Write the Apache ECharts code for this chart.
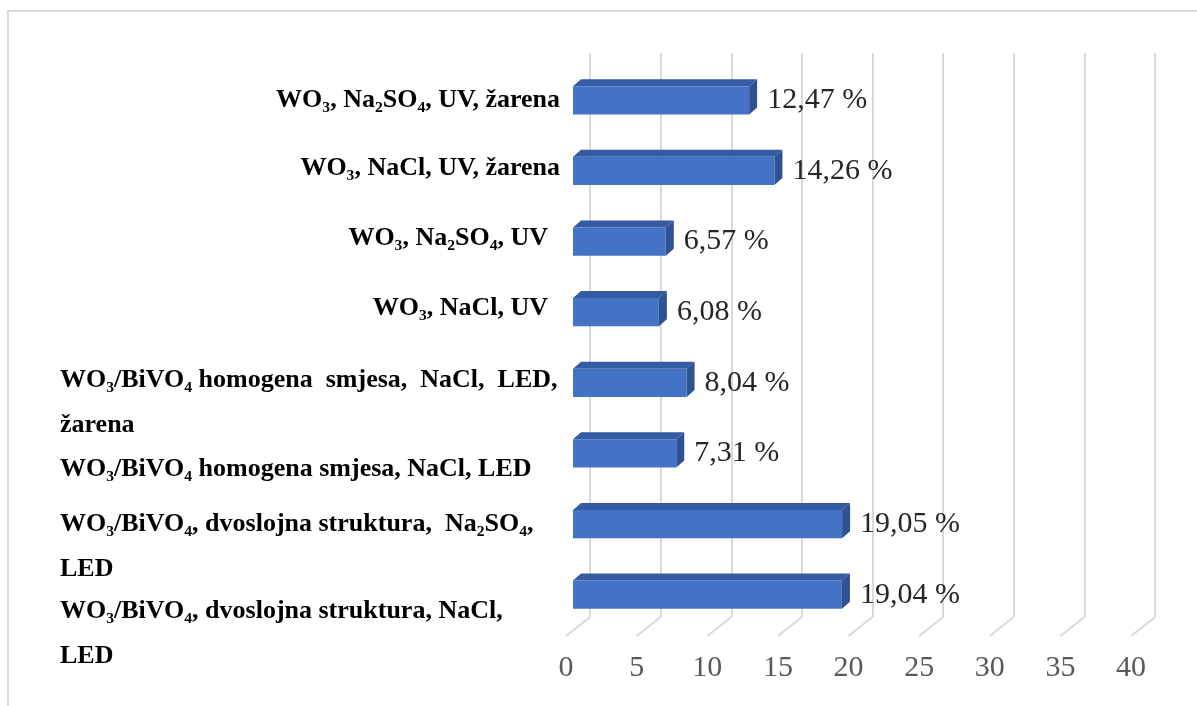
<!DOCTYPE html>
<html>
<head>
<meta charset="utf-8">
<script src="https://cdn.jsdelivr.net/npm/echarts@6/dist/echarts.min.js"></script>
<style>
  html, body { margin: 0; padding: 0; background: #ffffff; }
  #chart { width: 1197px; height: 706px; }
</style>
</head>
<body>
<div id="chart"></div>
<script>
// ---- data ----
const categories = [
  'WO₃, Na₂SO₄, UV, žarena',
  'WO₃, NaCl, UV, žarena',
  'WO₃, Na₂SO₄, UV',
  'WO₃, NaCl, UV',
  'WO₃/BiVO₄ homogena smjesa, NaCl, LED,\nžarena',
  'WO₃/BiVO₄ homogena smjesa, NaCl, LED',
  'WO₃/BiVO₄, dvoslojna struktura, Na₂SO₄,\nLED',
  'WO₃/BiVO₄, dvoslojna struktura, NaCl,\nLED'
];
const values = [12.47, 14.26, 6.57, 6.08, 8.04, 7.31, 19.05, 19.04];
const xTicks = [0, 5, 10, 15, 20, 25, 30, 35, 40];

// ---- style ----
const FRONT = '#4472C4';
const TOP = '#345BA3';
const SIDE = '#2F5293';
const GRID_COLOR = '#D9D9D9';
const SERIF = '"Liberation Serif", "Times New Roman", serif';
const DEPTH = [24, -19];        // floor depth vector (front -> back wall)
const BAR_DEPTH = [8, -7];      // bar top/side extrusion
const LABEL_W = 500;
const CAT_FONT = 26;

// per-category label layout: left-aligned block or right-aligned, padding,
// and whether the first line is stretched (justified) with wider word gaps
const labelLayout = [
  { left: false, pad: [0, 0, 0, 0] },
  { left: false, pad: [0, 0, 6, 0] },
  { left: false, pad: [0, 12, 6, 0] },
  { left: false, pad: [0, 12, 8, 0] },
  { left: true,  pad: [39, 0, 0, 0], justify: 3 },
  { left: true,  pad: [32, 0, 0, 0] },
  { left: true,  pad: [45, 0, 0, 0], justify: 1 },
  { left: true,  pad: [79, 0, 0, 0] }
];

const fmt = v => v.toFixed(2).replace('.', ',') + ' %';

// widen some word gaps of a line (justified paragraph look)
function stretch(line, n) {
  const words = line.split(' ');
  let out = words[0];
  for (let k = 1; k < words.length; k++) {
    out += (k > words.length - 1 - n ? '  ' : ' ') + words[k];
  }
  return out;
}

const yData = categories.map((c, i) => ({
  value: c,
  textStyle: { padding: labelLayout[i].pad }
}));

const chart = echarts.init(document.getElementById('chart'));

chart.setOption({
  backgroundColor: '#ffffff',
  animation: false,
  graphic: [{
    type: 'rect',
    shape: { x: 8, y: 11, width: 1400, height: 900 },
    style: { fill: 'none', stroke: GRID_COLOR, lineWidth: 2 },
    silent: true
  }],
  grid: [
    // back wall (gridlines)
    { left: 590, top: 53, width: 565, height: 564 },
    // front plane of the bars
    { left: 573, top: 65, width: 565, height: 565 },
    // front edge of the floor (tick labels)
    { left: 566, top: 600, width: 565, height: 36 }
  ],
  xAxis: [
    {
      gridIndex: 0, type: 'value', min: 0, max: 40, interval: 5,
      axisLine: { show: false }, axisTick: { show: false }, axisLabel: { show: false },
      splitLine: { show: true, lineStyle: { color: GRID_COLOR, width: 2 } }
    },
    {
      gridIndex: 1, type: 'value', min: 0, max: 40, interval: 5,
      axisLine: { show: false }, axisTick: { show: false }, axisLabel: { show: false },
      splitLine: { show: false }
    },
    {
      gridIndex: 2, type: 'value', min: 0, max: 40, interval: 5,
      axisLine: { show: false }, axisTick: { show: false },
      splitLine: { show: false },
      axisLabel: {
        show: true, margin: 17, color: '#595959', fontSize: 30,
        fontFamily: SERIF
      }
    }
  ],
  yAxis: [
    { gridIndex: 0, type: 'value', show: false, min: 0, max: 1 },
    {
      gridIndex: 1, type: 'category', inverse: true, data: yData,
      axisLine: { show: false }, axisTick: { show: false },
      splitLine: { show: false },
      axisLabel: {
        show: true, interval: 0, hideOverlap: false,
        margin: 13, color: '#000000', fontSize: CAT_FONT,
        fontWeight: 'bold', fontFamily: SERIF, lineHeight: 45,
        formatter: (val, idx) => {
          const lay = labelLayout[idx];
          if (!lay.left) return val;
          return val.split('\n').map((l, k) =>
            '{L|' + (k === 0 && lay.justify ? stretch(l, lay.justify) : l) + '}'
          ).join('\n');
        },
        rich: {
          L: {
            width: LABEL_W, align: 'left', color: '#000000', fontSize: CAT_FONT,
            fontWeight: 'bold', fontFamily: SERIF, lineHeight: 45
          }
        }
      }
    },
    { gridIndex: 2, type: 'value', show: false, min: 0, max: 1 }
  ],
  series: [
    {
      // slanted floor lines joining the back-wall gridlines to the front edge
      type: 'custom',
      xAxisIndex: 2, yAxisIndex: 2,
      silent: true,
      data: xTicks.map(v => [v, 0]),
      renderItem: (params, api) => {
        const p = api.coord([api.value(0), 0]);
        return {
          type: 'line',
          shape: { x1: p[0], y1: p[1], x2: p[0] + DEPTH[0], y2: p[1] + DEPTH[1] },
          style: { stroke: GRID_COLOR, lineWidth: 2 }
        };
      }
    },
    {
      // extruded horizontal bars with value labels
      type: 'custom',
      xAxisIndex: 1, yAxisIndex: 1,
      data: values.map((v, i) => [v, i]),
      renderItem: (params, api) => {
        const v = api.value(0);
        const i = api.value(1);
        const s = api.coord([0, i]);
        const e = api.coord([v, i]);
        const band = api.size([0, 1])[1];
        const h = band * 0.40;
        const top = s[1] - h / 2;
        const bot = s[1] + h / 2;
        const dx = BAR_DEPTH[0], dy = BAR_DEPTH[1];
        return {
          type: 'group',
          children: [
            {
              type: 'polygon',
              shape: { points: [[s[0], top], [s[0] + dx, top + dy], [e[0] + dx, top + dy], [e[0], top]] },
              style: { fill: TOP }
            },
            {
              type: 'polygon',
              shape: { points: [[e[0], top], [e[0] + dx, top + dy], [e[0] + dx, bot + dy], [e[0], bot]] },
              style: { fill: SIDE }
            },
            {
              type: 'rect',
              shape: { x: s[0], y: top, width: e[0] - s[0], height: h },
              style: { fill: FRONT }
            },
            {
              type: 'text',
              style: {
                text: fmt(v), x: e[0] + dx + 10, y: s[1],
                verticalAlign: 'middle', align: 'left',
                fill: '#262626', fontSize: 30, fontFamily: SERIF
              }
            }
          ]
        };
      }
    }
  ]
});
</script>
</body>
</html>
